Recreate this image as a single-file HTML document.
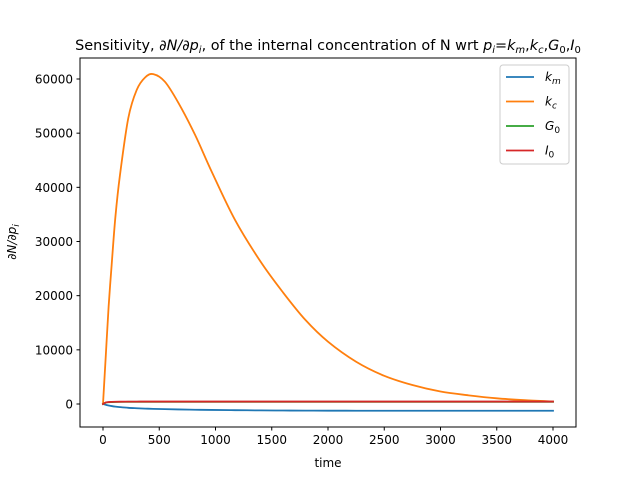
<!DOCTYPE html>
<html><head><meta charset="utf-8"><style>body{margin:0;background:#fff}svg{display:block;font-family:"DejaVu Sans","Liberation Sans",sans-serif}</style></head>
<body>
<svg id="chart" width="640" height="480" xmlns="http://www.w3.org/2000/svg">
<rect width="640" height="480" fill="#fff"/>
<g id="plot"></g>
<text x="328" y="50" font-size="14.4" text-anchor="middle">Sensitivity, <tspan font-style="italic">∂N/∂p<tspan font-size="10" dy="3">i</tspan></tspan><tspan dy="-3">, of the internal concentration of N wrt </tspan><tspan font-style="italic">p<tspan font-size="10" dy="3">i</tspan></tspan><tspan dy="-3">=</tspan><tspan font-style="italic">k<tspan font-size="10" dy="3">m</tspan></tspan><tspan dy="-3">,</tspan><tspan font-style="italic">k<tspan font-size="10" dy="3">c</tspan></tspan><tspan dy="-3">,</tspan><tspan font-style="italic">G</tspan><tspan font-size="10" dy="3">0</tspan><tspan dy="-3">,</tspan><tspan font-style="italic">I</tspan><tspan font-size="10" dy="3">0</tspan></text>
<text x="328" y="467" font-size="12" text-anchor="middle">time</text>
<text transform="translate(16,242) rotate(-90)" font-size="12" text-anchor="middle" font-style="italic">∂N/∂p<tspan font-size="9" dy="3">i</tspan></text>
</svg>
<script>
const times=[0,25,50,77,110,151,225,300,375,447,550,670,818,966,1173,1400,1600,1800,2000,2250,2500,2750,3000,3250,3500,3750,4000];
const kc=[0,9000,18000,25700,34500,42300,52800,58000,60300,60900,59500,55600,49700,42900,34000,26300,20600,15500,11500,7800,5200,3500,2300,1600,1050,700,450];
const km=[0,-150,-280,-380,-480,-570,-700,-780,-850,-900,-950,-1000,-1060,-1100,-1140,-1180,-1200,-1220,-1230,-1240,-1245,-1250,-1250,-1250,-1250,-1250,-1250];
const g0=[0,250,330,360,385,395,400,400,400,400,400,400,400,400,400,400,400,400,400,400,400,400,400,400,400,400,400];
const i0=[0,280,360,390,415,430,440,445,448,450,450,450,450,450,450,450,450,450,450,450,450,450,450,450,450,450,450];
const xTicks=[0,500,1000,1500,2000,2500,3000,3500,4000];
const yTicks=[0,10000,20000,30000,40000,50000,60000];
const X=t=>103+t*450/4000, Y=v=>404-v*325/60000;
const NS="http://www.w3.org/2000/svg", g=document.getElementById('plot');
function mk(tag,a){const e=document.createElementNS(NS,tag);for(const k in a)e.setAttribute(k,a[k]);g.appendChild(e);return e;}
function smooth(pts){let d='M'+pts[0][0]+','+pts[0][1];
for(let i=0;i<pts.length-1;i++){const p0=pts[Math.max(0,i-1)],p1=pts[i],p2=pts[i+1],p3=pts[Math.min(pts.length-1,i+2)];
const c1=[p1[0]+(p2[0]-p0[0])/6,p1[1]+(p2[1]-p0[1])/6],c2=[p2[0]-(p3[0]-p1[0])/6,p2[1]-(p3[1]-p1[1])/6];
d+=' C'+c1[0]+','+c1[1]+' '+c2[0]+','+c2[1]+' '+p2[0]+','+p2[1];}return d;}
const L=80,R=576,T=58,B=427;
xTicks.forEach(t=>{const l=mk('line',{x1:X(t),x2:X(t),y1:B,y2:B+3.5,stroke:'#000'});


const s=mk('text',{x:X(t),y:B+17,'font-size':12,'text-anchor':'middle'});s.textContent=t;

});
yTicks.forEach(v=>{const l=mk('line',{x1:L-3.5,x2:L,y1:Y(v),y2:Y(v),stroke:'#000'});


const s=mk('text',{x:L-7,y:Y(v)+4.5,'font-size':12,'text-anchor':'end'});s.textContent=v;

});
const series=[['km',km,'#1f77b4'],['kc',kc,'#ff7f0e'],['g0',g0,'#2ca02c'],['i0',i0,'#d62728']];
series.forEach(([n,d,c])=>{const p=mk('path',{d:smooth(times.map((t,i)=>[X(t),Y(d[i])])),fill:'none',stroke:c,'stroke-width':1.8,'stroke-linecap':'square','stroke-linejoin':'round'});

});
const fr=mk('rect',{x:L,y:T,width:R-L,height:B-T,fill:'none',stroke:'#000','stroke-width':1});


const lg=mk('rect',{x:500,y:65,width:69,height:99,rx:3,fill:'#fff','fill-opacity':0.8,stroke:'#ccc'});


const labs=[['k','m'],['k','c'],['G','0'],['I','0']];
series.forEach(([n,d,c],i)=>{const y=77+i*24.5;
const l=mk('line',{x1:506,x2:534,y1:y,y2:y,stroke:c,'stroke-width':1.8});


const t=mk('text',{x:545,y:y+4,'font-size':12,'font-style':'italic'});
t.innerHTML=labs[i][0]+'<tspan font-size="9" dy="3" font-style="'+(labs[i][1]==='0'?'normal':'italic')+'">'+labs[i][1]+'</tspan>';

});
</script>
</body></html>
